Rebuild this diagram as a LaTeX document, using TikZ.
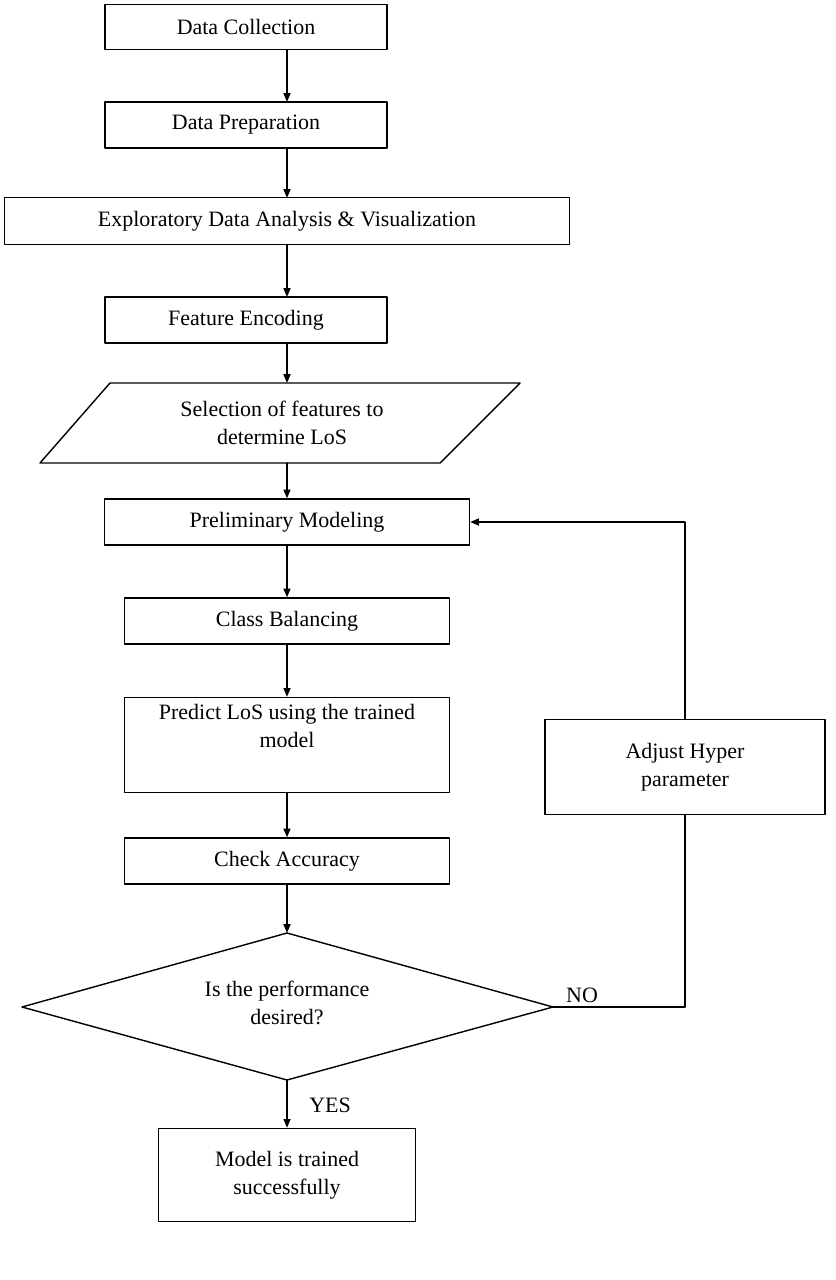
\documentclass[tikz,border=0pt]{standalone}
\usepackage{fontspec}
\setmainfont{Liberation Serif}
\usetikzlibrary{arrows.meta,positioning}
\begin{document}
\begin{tikzpicture}[x=0.02cm,y=-0.02cm,line cap=round,line join=round,>=Triangle,
  box/.style={draw,line width=0.8pt,align=center,inner sep=0pt,font=\fontsize{12.5}{16}\selectfont},
  flow/.style={->,line width=0.8pt,>={Triangle[length=5pt,width=4pt]}},
  lbl/.style={font=\fontsize{12.5}{16}\selectfont}]
    \useasboundingbox (0,0) rectangle (835,1280);
    % boxes
    \node[box,minimum width=282*0.02cm,minimum height=45*0.02cm] (coll) at (246,27) {Data Collection};
    \node[box,minimum width=282*0.02cm,minimum height=46*0.02cm] (prep) at (246,125) {Data Preparation};
    \node[box,minimum width=565*0.02cm,minimum height=47*0.02cm] (eda) at (287,221) {Exploratory Data Analysis \& Visualization};
    \node[box,minimum width=282*0.02cm,minimum height=46*0.02cm] (enc) at (246,320) {Feature Encoding};
    \draw[line width=0.8pt] (110,383) -- (520,383) -- (440,463) -- (40,463) -- cycle;
    \node[lbl,align=center] (sel) at (282,423) {Selection of features to\\determine LoS};
    \coordinate (selT) at (287,383);
    \coordinate (selB) at (287,463);
    \node[box,minimum width=365*0.02cm,minimum height=46*0.02cm] (prel) at (287,522) {Preliminary Modeling};
    \node[box,minimum width=325*0.02cm,minimum height=46*0.02cm] (bal) at (287,621) {Class Balancing};
    \node[box,minimum width=325*0.02cm,minimum height=95*0.02cm] (pred) at (287,745) {Predict LoS using the trained\\model\\[6pt]};
    \node[box,minimum width=325*0.02cm,minimum height=46*0.02cm] (acc) at (287,861) {Check Accuracy};
    \draw[line width=0.8pt] (287,933) -- (553,1007) -- (287,1080) -- (22,1007) -- cycle;
    \node[lbl,align=center] (dec) at (287,1003) {Is the performance\\desired?};
    \coordinate (decT) at (287,933);
    \coordinate (decB) at (287,1080);
    \coordinate (decR) at (553,1007);
    \node[box,minimum width=280*0.02cm,minimum height=95*0.02cm] (adj) at (685,767) {Adjust Hyper\\parameter};
    \node[box,minimum width=257*0.02cm,minimum height=93*0.02cm] (done) at (287,1175) {Model is trained\\successfully};

    % connectors
    \draw[flow] (287,50) -- (287,102);
    \draw[flow] (287,148) -- (287,198);
    \draw[flow] (287,245) -- (287,297);
    \draw[flow] (287,343) -- (selT);
    \draw[flow] (selB) -- (prel);
    \draw[flow] (prel) -- (bal);
    \draw[flow] (bal) -- (pred);
    \draw[flow] (pred) -- (acc);
    \draw[flow] (acc) -- (decT);
    \draw[flow] (decB) -- (done);
    \draw[line width=0.8pt] (decR) -| (adj.south);
    \draw[flow] (adj.north) |- (prel.east);
    \node[lbl] (no) at (582,995) {NO};
    \node[lbl] (yes) at (330,1105) {YES};
\end{tikzpicture}
\end{document}
